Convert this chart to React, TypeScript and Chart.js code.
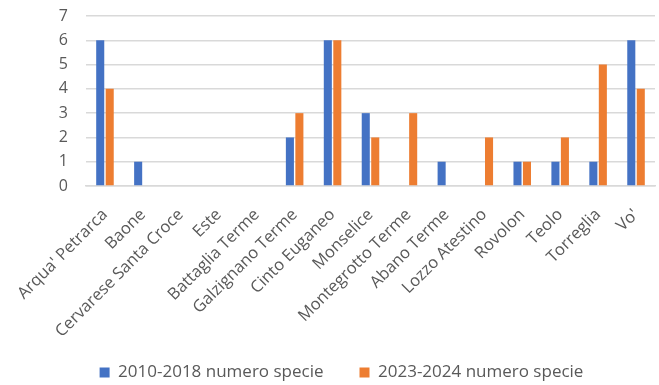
import React, { useEffect, useRef } from "react";
import { Chart, registerables } from "chart.js";

Chart.register(...registerables);

const categories = [
  "Arqua' Petrarca",
  "Baone",
  "Cervarese Santa Croce",
  "Este",
  "Battaglia Terme",
  "Galzignano Terme",
  "Cinto Euganeo",
  "Monselice",
  "Montegrotto Terme",
  "Abano Terme",
  "Lozzo Atestino",
  "Rovolon",
  "Teolo",
  "Torreglia",
  "Vo'",
];

const series2010 = [6, 1, 0, 0, 0, 2, 6, 3, 0, 1, 0, 1, 1, 1, 6];
const series2023 = [4, 0, 0, 0, 0, 3, 6, 2, 3, 0, 2, 1, 2, 5, 4];
const seriesNames = ["2010-2018 numero specie", "2023-2024 numero specie"];
const yTicks = [0, 1, 2, 3, 4, 5, 6, 7];

const FONT = "'Open Sans', 'Liberation Sans', sans-serif";
const TEXT = "#595959";

export default function App() {
  const ref = useRef<HTMLCanvasElement>(null);
  useEffect(() => {
    document.body.style.margin = "0";
    const ctx = ref.current!;
    const chart = new Chart(ctx, {
      type: "bar",
      data: {
        labels: categories,
        datasets: [
          {
            label: seriesNames[0],
            data: series2010,
            backgroundColor: "#4472C4",
            categoryPercentage: 0.5,
            barPercentage: 0.85,
          },
          {
            label: seriesNames[1],
            data: series2023,
            backgroundColor: "#ED7D31",
            categoryPercentage: 0.5,
            barPercentage: 0.85,
          },
        ],
      },
      options: {
        animation: false,
        responsive: false,
        maintainAspectRatio: false,
        layout: { padding: { top: 16, left: 28, right: 4, bottom: -6 } },
        plugins: {
          tooltip: { enabled: false },
          legend: {
            position: "bottom",
            labels: {
              boxWidth: 10,
              boxHeight: 10,
              padding: 36,
              color: TEXT,
              font: { family: FONT, size: 17 },
            },
          },
        },
        scales: {
          x: {
            grid: { display: false },
            border: { display: true, color: "#d9d9d9", width: 1.5 },
            ticks: {
              color: TEXT,
              font: { family: FONT, size: 16.5 },
              minRotation: 45,
              maxRotation: 45,
              autoSkip: false,
              padding: 11,
            },
            afterFit: (s: any) => {
              s.paddingLeft = 0;
              s.paddingRight = 0;
              s.height = 142;
              s._computeLabelArea = () => undefined;
            },
          },
          y: {
            min: 0,
            max: 7,
            afterBuildTicks: (s: any) => {
              s.ticks = yTicks.map((v) => ({ value: v }));
            },
            grid: { color: "#d9d9d9", lineWidth: 1.5, drawTicks: false },
            border: { display: false },
            ticks: {
              color: TEXT,
              font: { family: FONT, size: 16 },
              padding: 18,
            },
            afterFit: (s: any) => {
              s.width = 58;
              s.paddingTop = 0;
              s.paddingBottom = 0;
            },
          },
        },
      },
    });
    return () => chart.destroy();
  }, []);
  return <canvas ref={ref} width={659} height={385} style={{ display: "block" }} />;
}
